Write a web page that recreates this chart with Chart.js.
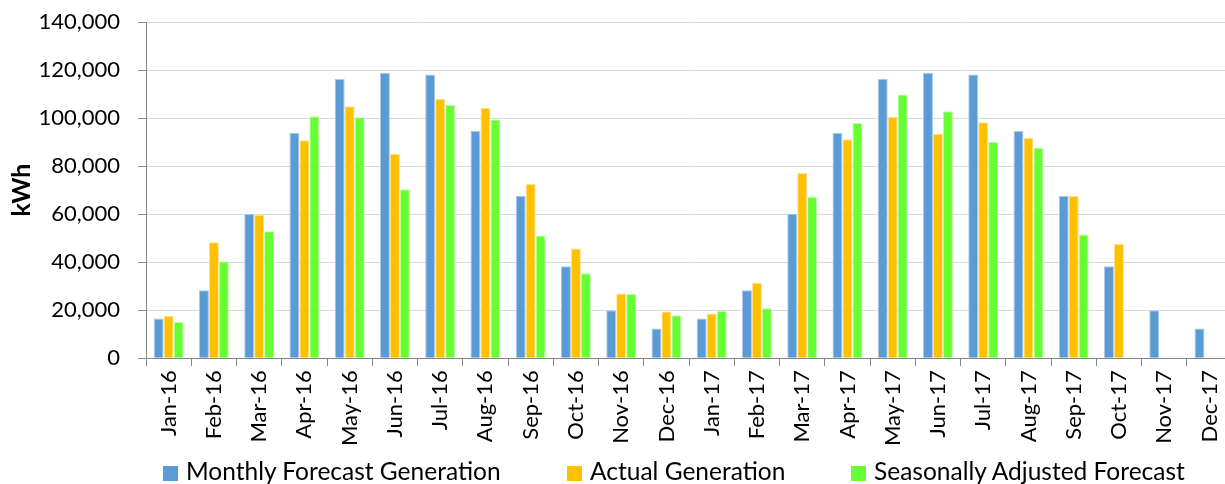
<!DOCTYPE html>
<html>
<head>
<meta charset="utf-8">
<script src="https://cdn.jsdelivr.net/npm/chart.js@4"></script>
<style>
  html, body { margin: 0; padding: 0; background: #fff; overflow: hidden; }
  #wrap { position: relative; width: 1240px; height: 484px; }
  #legend { position: absolute; left: 0; top: 457px; width: 1240px; height: 28px; font-family: Lato, sans-serif; font-size: 24.5px; color: #000; }
  .item { position: absolute; top: 0; line-height: 28px; white-space: nowrap; }
  .box { display: inline-block; width: 15px; height: 15px; margin-right: 8px; vertical-align: -1px; }
</style>
</head>
<body>
<div id="wrap">
  <canvas id="genChart"></canvas>
  <div id="legend"></div>
</div>
<script>
const months = ['Jan-16', 'Feb-16', 'Mar-16', 'Apr-16', 'May-16', 'Jun-16', 'Jul-16', 'Aug-16', 'Sep-16', 'Oct-16', 'Nov-16', 'Dec-16',
  'Jan-17', 'Feb-17', 'Mar-17', 'Apr-17', 'May-17', 'Jun-17', 'Jul-17', 'Aug-17', 'Sep-17', 'Oct-17', 'Nov-17', 'Dec-17'];

const forecast = [16500, 28300, 60200, 93900, 116300, 118900, 118100, 94600, 67600, 38300, 20000, 12400,
  16500, 28300, 60200, 93900, 116300, 118900, 118100, 94600, 67600, 38300, 20000, 12400];
const actual = [17600, 48300, 59700, 90800, 104900, 85000, 107900, 104200, 72500, 45700, 26900, 19400,
  18600, 31400, 77100, 91200, 100400, 93500, 98300, 91700, 67500, 47600, null, null];
const seasonal = [15100, 40300, 52900, 100800, 100300, 70400, 105400, 99400, 51100, 35400, 26700, 17900,
  19700, 20800, 67200, 97900, 109800, 102800, 90000, 87600, 51500, null, null, null];

const yTicks = [0, 20000, 40000, 60000, 80000, 100000, 120000, 140000];

const seriesNames = ['Monthly Forecast Generation', 'Actual Generation', 'Seasonally Adjusted Forecast'];
const fillColors = ['#5B9BD5', '#FFC000', '#66FF33'];
const edgeColors = ['#A9C9EA', '#FFE08A', '#B8FF9E'];

const font = 'Lato';

const data = {
  labels: months,
  datasets: [forecast, actual, seasonal].map((vals, i) => ({
    label: seriesNames[i],
    data: vals,
    backgroundColor: fillColors[i],
    borderColor: edgeColors[i],
    borderWidth: 1,
    borderSkipped: 'bottom',
    barPercentage: 1,
    categoryPercentage: 0.66,
  })),
};

const options = {
  responsive: true,
  maintainAspectRatio: false,
  animation: false,
  layout: {
    padding: { left: 0, right: 7, top: 22, bottom: 34 },
  },
  plugins: {
    legend: { display: false },
    tooltip: { enabled: false },
  },
  scales: {
    x: {
      grid: {
        drawOnChartArea: false,
        drawTicks: true,
        tickLength: 8,
        tickColor: '#868686',
        offset: true,
      },
      border: { color: '#868686', width: 1 },
      ticks: {
        autoSkip: false,
        minRotation: 90,
        maxRotation: 90,
        padding: 4,
        color: '#000',
        font: { family: font, size: 22 },
      },
    },
    y: {
      min: 0,
      max: 140000,
      afterBuildTicks: (axis) => { axis.ticks = yTicks.map(v => ({ value: v })); },
      afterFit: (axis) => {
        axis.width = 146;
        axis.paddingTop = 0;
        axis.paddingBottom = 0;
      },
      grid: {
        color: '#D9D9D9',
        tickColor: '#868686',
        tickLength: 8,
      },
      border: { color: '#868686', width: 1 },
      ticks: {
        padding: 18,
        color: '#000',
        font: { family: font, size: 22 },
        callback: (v) => v.toLocaleString('en-US'),
      },
      title: {
        display: true,
        text: 'kWh',
        color: '#000',
        font: { family: font, size: 25, weight: 'bold' },
        padding: { top: 7, bottom: 0 },
      },
    },
  },
};

const ctx = document.getElementById('genChart').getContext('2d');
const genChart = new Chart(ctx, {
  type: 'bar',
  data: data,
  options: options,
});

// legend below the axis labels
const legendLeft = [163, 567, 851];
const legendEl = document.getElementById('legend');
seriesNames.forEach((name, i) => {
  const item = document.createElement('span');
  item.className = 'item';
  item.style.left = legendLeft[i] + 'px';
  item.innerHTML = '<span class="box" style="background:' + fillColors[i] + '"></span>' + name;
  legendEl.appendChild(item);
});
</script>
</body>
</html>
